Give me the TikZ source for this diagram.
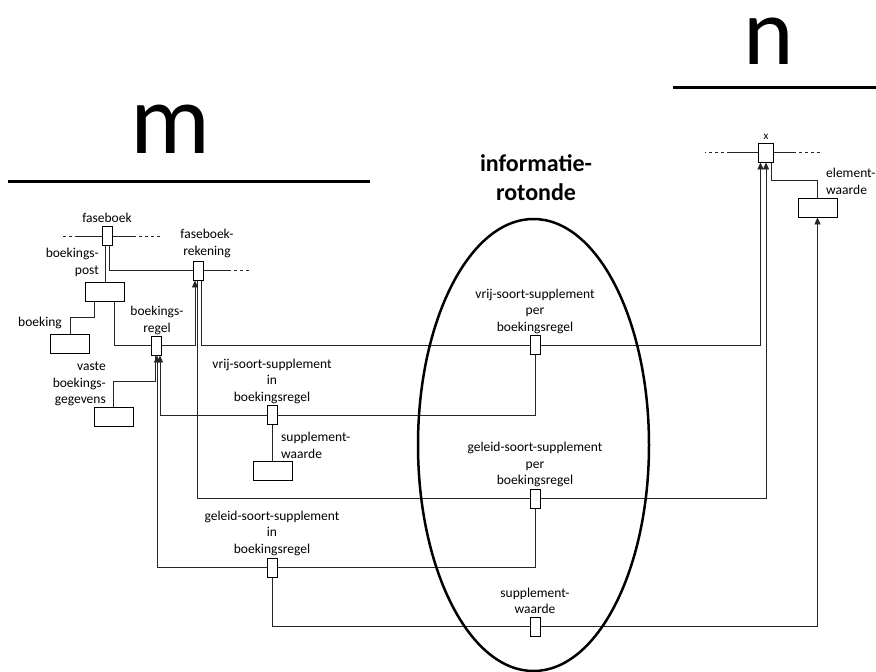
\documentclass[tikz,border=0pt]{standalone}
\usepackage{fontspec}
\setmainfont{Carlito}
\usetikzlibrary{arrows.meta,backgrounds}
\begin{document}
\begin{tikzpicture}[x=1pt,y=-1pt,
  lbl/.style={inner sep=0pt,align=center,font=\fontsize{13.5}{16.5}\selectfont},
  sbox/.style={draw,fill=white,minimum width=10pt,minimum height=19pt,inner sep=0pt,line width=0.9pt},
  wbox/.style={draw,fill=white,minimum width=39pt,minimum height=19pt,inner sep=0pt,line width=0.9pt},
  conn/.style={line width=0.9pt,draw=black!85},
  arr/.style={conn,-{Triangle[width=6pt,length=7pt]}},
  dsh/.style={conn,dash pattern=on 3pt off 3pt},
  bigline/.style={line width=3pt}]
\useasboundingbox (0,0) rectangle (876,672);

% headings
\node[inner sep=0pt,font=\fontsize{100}{100}\selectfont] (m) at (170,129) {m};
\node[inner sep=0pt,font=\fontsize{96}{96}\selectfont] (n) at (769,41) {n};
\coordinate (mL) at (8,181); \coordinate (mR) at (370,181);
\coordinate (nL) at (673,87); \coordinate (nR) at (876,87);
\draw[bigline] (mL) -- (mR);
\draw[bigline] (nL) -- (nR);
\node[inner sep=0pt,align=center,font=\fontsize{24}{29}\selectfont\bfseries] (rot) at (536,177.5) {informatie-\\rotonde};
\draw[line width=2.5pt] (533.5,445) ellipse [x radius=115.5pt, y radius=226pt];

% boxes
\node[sbox] (fb) at (107,236) {};
\node[sbox] (fbr) at (198,270.5) {};
\node[wbox] (bp) at (105,291.5) {};
\node[wbox] (bk) at (70,344) {};
\node[sbox] (br) at (156.5,345.5) {};
\node[wbox] (vb) at (113.5,417) {};
\node[sbox] (vin) at (272.5,415) {};
\node[wbox] (sw1) at (272.5,471) {};
\node[sbox] (vper) at (535.5,345) {};
\node[sbox] (gper) at (535.5,498.5) {};
\node[sbox] (gin) at (272.5,567.5) {};
\node[sbox] (sw2) at (535.5,626.5) {};
\node[sbox,minimum width=15pt] (xb) at (765.5,152.5) {};
\node[wbox] (ew) at (817.5,207.5) {};

% labels
\node[lbl] (tfb) at (107,218) {faseboek};
\node[lbl] (tfbr) at (207,243.5) {faseboek-\\rekening};
\node[lbl,anchor=east,align=right] (tbp) at (99,262.5) {boekings-\\post};
\node[lbl] (tbk) at (40,323) {boeking};
\node[lbl] (tbr) at (157,320.5) {boekings-\\regel};
\node[lbl,anchor=east,align=right] (tvb) at (106,384) {vaste\\boekings-\\gegevens};
\node[lbl] (tvin) at (272,381) {vrij-soort-supplement\\in\\boekingsregel};
\node[lbl,anchor=west,align=left] (tsw1) at (281,445.5) {supplement-\\waarde};
\node[lbl] (tvper) at (535,311) {vrij-soort-supplement\\per\\boekingsregel};
\node[lbl] (tgper) at (535,464.5) {geleid-soort-supplement\\per\\boekingsregel};
\node[lbl] (tgin) at (272,533) {geleid-soort-supplement\\in\\boekingsregel};
\node[lbl] (tsw2) at (535,601) {supplement-\\waarde};
\node[lbl,font=\fontsize{11}{13}\selectfont] (tx) at (766,137) {x};
\node[lbl,anchor=west,align=left] (tew) at (826,181.5) {element-\\waarde};

% free ends
\coordinate (fbW1) at (78,236); \coordinate (fbW2) at (60,236);
\coordinate (fbE1) at (133,236); \coordinate (fbE2) at (160,236);
\coordinate (fbrE1) at (228,270.5); \coordinate (fbrE2) at (250,270.5);
\coordinate (xbW1) at (730,152.5); \coordinate (xbW2) at (705,152.5);
\coordinate (xbE1) at (793,152.5); \coordinate (xbE2) at (820,152.5);

\begin{pgfonlayer}{background}
\draw[conn] (fb.west) -- (fbW1); \draw[dsh] (fbW1) -- (fbW2);
\draw[conn] (fb.east) -- (fbE1); \draw[dsh] (fbE1) -- (fbE2);
\draw[conn] ([xshift=-2pt]fb.south) -- ([xshift=-2pt]fb.south |- bp.north);
\draw[conn] ([xshift=2pt]fb.south) |- (fbr.west);
\draw[conn] (fbr.east) -- (fbrE1); \draw[dsh] (fbrE1) -- (fbrE2);
\draw[conn] ([xshift=-11pt]bp.south) -- ++(0,16) -| (bk.north);
\draw[conn] ([xshift=9pt]bp.south) |- (br.west);
\draw[arr] (br.east) -| ([xshift=-3pt]fbr.south);
\draw[conn] (vb.north) -- ++(0,-26) -| ([xshift=-1.5pt]br.south);
\draw[conn] ([xshift=3pt]fbr.south) |- (vper.west);
\draw[arr] (vper.east) -| ([xshift=-5pt]xb.south);
\draw[conn] (vper.south) |- (vin.east);
\draw[arr] (vin.west) -| ([xshift=3.5pt]br.south);
\draw[conn] (vin.south) -- (sw1.north);
\draw[conn] ([xshift=-1pt]fbr.south) |- (gper.west);
\draw[arr] (gper.east) -| ([xshift=0.5pt]xb.south);
\draw[conn] (gper.south) |- (gin.east);
\draw[arr] (gin.west) -| ([xshift=0.5pt]br.south);
\draw[conn] (gin.south) |- (sw2.west);
\draw[arr] (sw2.east) -| (ew.south);
\draw[conn] (xb.west) -- (xbW1); \draw[dsh] (xbW1) -- (xbW2);
\draw[conn] (xb.east) -- (xbE1); \draw[dsh] (xbE1) -- (xbE2);
\draw[conn] ([xshift=5.5pt]xb.south) -- ++(0,18) -| (ew.north);
\end{pgfonlayer}
\end{tikzpicture}
\end{document}
